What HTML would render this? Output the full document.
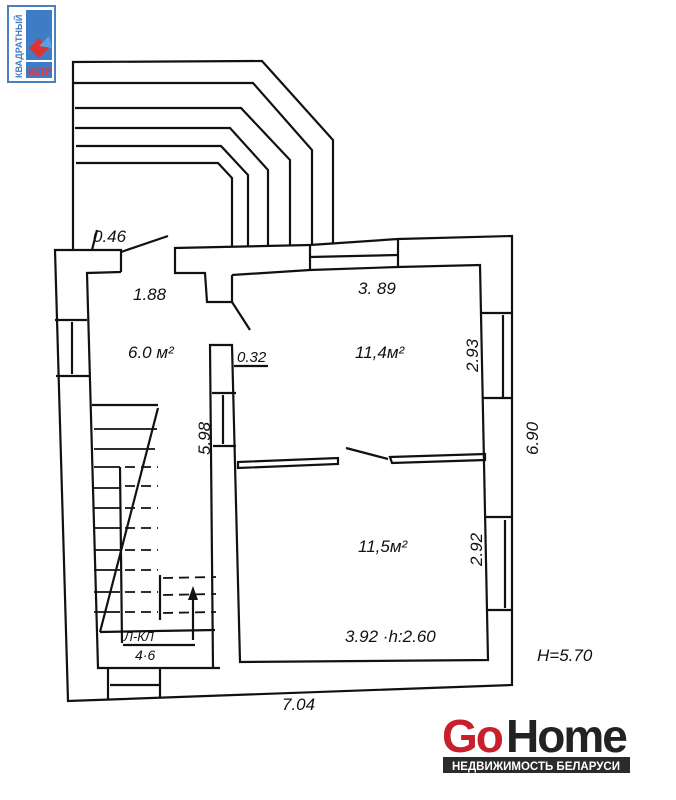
<!DOCTYPE html>
<html><head><meta charset="utf-8"><style>
html,body{margin:0;padding:0;background:#fff;width:676px;height:800px;overflow:hidden}
svg{display:block}
.t{font-family:"Liberation Sans",sans-serif;font-style:italic;fill:#111}
</style></head><body>
<svg width="676" height="800" viewBox="0 0 676 800" xmlns="http://www.w3.org/2000/svg">
<g fill="none" stroke="#111" stroke-width="2.2" stroke-linejoin="miter">
<polyline points="73,250 73,62 262,61 333,140 333,243"/>
<polyline points="73,83 253,83 312,150 312,245"/>
<polyline points="75,108 241,108 290,160 290,245"/>
<polyline points="75,128 230,128 268,170 268,246"/>
<polyline points="76,146 221,146 248,175 248,246"/>
<polyline points="76,163 218,163 232,178 232,247"/>
<polyline points="121,272 121,250 55,250 68,701 512,685 512,236 398,239"/>
<polyline points="310,245 175,248 175,273 205,273 207,302 232,302 232,275"/>
<line x1="310" y1="245" x2="398" y2="239"/>
<line x1="310" y1="270" x2="398" y2="267"/>
<line x1="310" y1="257" x2="398" y2="255"/>
<line x1="310" y1="245" x2="310" y2="270"/>
<line x1="398" y1="239" x2="398" y2="267"/>
<polyline points="121,272 87,273 98,668 220,668"/>
<polyline points="213,668 210,345 232,345 240,662 488,660 480,265 398,267"/>
<line x1="232" y1="275" x2="310" y2="270"/>
<line x1="55" y1="320" x2="87" y2="320"/><line x1="56" y1="376" x2="89" y2="376"/><line x1="72" y1="322" x2="72" y2="374"/>
<line x1="108" y1="668" x2="108" y2="699"/><line x1="160" y1="668" x2="160" y2="698"/><line x1="110" y1="685" x2="159" y2="685"/>
<line x1="212" y1="393" x2="236" y2="393"/><line x1="213" y1="446" x2="236" y2="446"/><line x1="223" y1="395" x2="223" y2="444"/>
<line x1="482" y1="313" x2="512" y2="313"/><line x1="483" y1="398" x2="512" y2="398"/><line x1="503" y1="315" x2="503" y2="397"/>
<line x1="486" y1="517" x2="513" y2="517"/><line x1="488" y1="610" x2="513" y2="610"/><line x1="505" y1="520" x2="505" y2="608"/>
<path d="M238,462 L338,458 L338,464 L238,468 Z"/>
<path d="M390,457 L485,454 L485,460 L392,463 Z"/>
<line x1="346" y1="448" x2="388" y2="459"/>
<line x1="121" y1="252" x2="168" y2="236"/>
<line x1="97" y1="230" x2="92" y2="250"/>
<line x1="232" y1="302" x2="250" y2="330"/>
<line x1="234" y1="366" x2="268" y2="366"/>
<line x1="92" y1="405" x2="158" y2="405"/>
<line x1="158" y1="408" x2="100" y2="632"/>
<line x1="100" y1="632" x2="215" y2="630"/>
<line x1="120" y1="467" x2="122" y2="643"/>
<line x1="123" y1="645" x2="195" y2="645"/>
<line x1="160" y1="575" x2="160" y2="620"/>
<g stroke-width="1.8">
<line x1="94" y1="429" x2="157" y2="429"/><line x1="94" y1="449" x2="155" y2="449"/>
<line x1="94" y1="467" x2="120" y2="467"/><line x1="94" y1="488" x2="120" y2="488"/>
<line x1="94" y1="508" x2="120" y2="508"/><line x1="94" y1="528" x2="120" y2="528"/>
<line x1="94" y1="550" x2="120" y2="550"/><line x1="94" y1="570" x2="120" y2="570"/>
<line x1="94" y1="592" x2="120" y2="592"/><line x1="94" y1="612" x2="120" y2="612"/>
</g>
<g stroke-width="1.8" stroke-dasharray="10,6">
<line x1="125" y1="467" x2="158" y2="467"/>
<line x1="125" y1="486" x2="158" y2="486"/><line x1="125" y1="508" x2="158" y2="508"/>
<line x1="125" y1="528" x2="158" y2="528"/><line x1="125" y1="550" x2="158" y2="550"/>
<line x1="125" y1="570" x2="158" y2="570"/><line x1="125" y1="592" x2="158" y2="592"/>
<line x1="125" y1="612" x2="158" y2="612"/>
<line x1="163" y1="578" x2="216" y2="577"/><line x1="163" y1="595" x2="216" y2="594"/><line x1="163" y1="613" x2="216" y2="612"/>
</g>
<line x1="193" y1="640" x2="193" y2="595"/>
</g>
<polygon points="193,586 188,600 198,600" fill="#111"/>
<g class="t" font-size="17">
<text x="93" y="242">0.46</text>
<text x="133" y="300">1.88</text>
<text x="358" y="294">3. 89</text>
<text x="128" y="358">6.0 м²</text>
<text x="237" y="362" font-size="15">0.32</text>
<text x="355" y="358">11,4м²</text>
<text x="358" y="552">11,5м²</text>
<text x="345" y="642">3.92 ·h:2.60</text>
<text x="537" y="661">Н=5.70</text>
<text x="282" y="710">7.04</text>
<text x="124" y="641" font-size="13">Л-КЛ</text>
<text x="135" y="660" font-size="14">4·6</text>
<text transform="translate(478,372) rotate(-90)">2.93</text>
<text transform="translate(482,566) rotate(-90)">2.92</text>
<text transform="translate(210,455) rotate(-90)">5.98</text>
<text transform="translate(538,455) rotate(-90)">6.90</text>
</g>
<rect x="8" y="6" width="47" height="76" fill="#fff" stroke="#4a7fc0" stroke-width="2"/>
<rect x="26" y="10" width="26" height="50" fill="#3f7cc6"/>
<polygon points="29,48 39,38 49,48 39,58" fill="#d33"/>
<polygon points="39,46 49,36 52,48" fill="#5aa0e0"/>
<rect x="26" y="62" width="26" height="16" fill="#3f7cc6"/>
<text x="39" y="75" font-family="Liberation Sans,sans-serif" font-size="9" font-weight="bold" fill="#e33" text-anchor="middle">МЕТР</text>
<text transform="translate(22,78) rotate(-90)" font-family="Liberation Sans,sans-serif" font-size="9" font-weight="bold" fill="#3f7cc6">КВАДРАТНЫЙ</text>
<text x="442" y="752" font-family="Liberation Sans,sans-serif" font-size="46" font-weight="bold" fill="#c8202a" letter-spacing="-2">Go</text>
<text x="506" y="752" font-family="Liberation Sans,sans-serif" font-size="46" font-weight="bold" fill="#222" letter-spacing="-2">Home</text>
<rect x="443" y="757" width="187" height="16" fill="#2b2b2b"/>
<text x="536" y="770" font-family="Liberation Sans,sans-serif" font-size="11.5" font-weight="bold" fill="#fff" text-anchor="middle">НЕДВИЖИМОСТЬ БЕЛАРУСИ</text>
</svg>
</body></html>
